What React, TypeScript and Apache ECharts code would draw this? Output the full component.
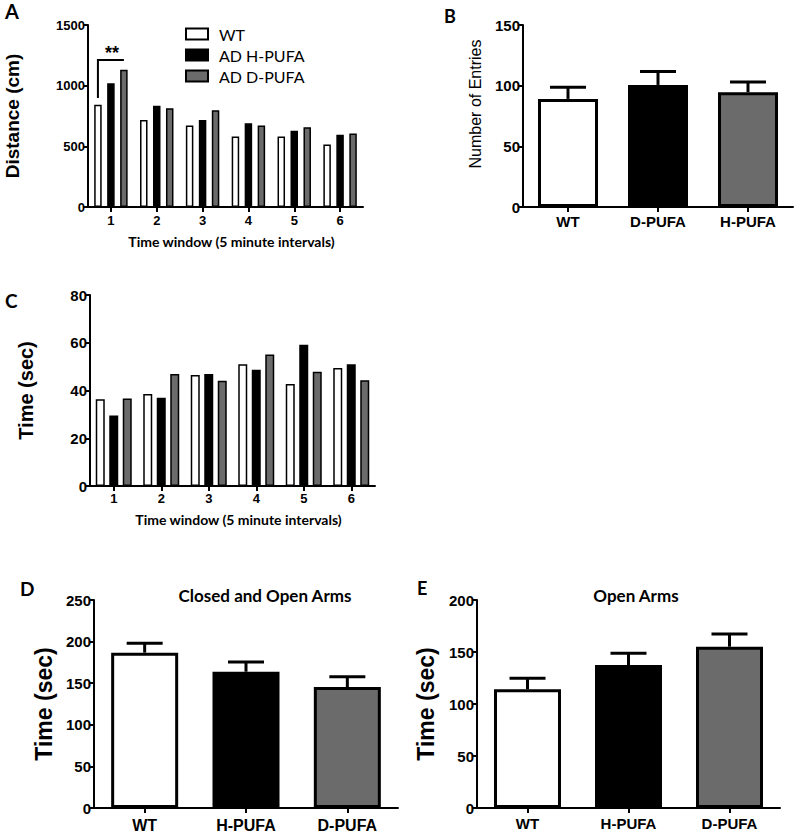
import React, { useEffect, useRef } from "react";
import * as echarts from "echarts";

// Panel A: distance per 5-minute window
const windowCats = ["1", "2", "3", "4", "5", "6"];
const distWT = [842, 718, 672, 581, 581, 515];
const distH = [1020, 834, 718, 691, 628, 595];
const distD = [1132, 814, 798, 672, 658, 606];
const distTicks = { max: 1500, interval: 500 };
// significance bracket on window 1 (WT vs AD D-PUFA)
const sigCat = 0;
const sigLow = 898;
const sigHigh = 1211;
const sigLabel = "**";

// Panel B: number of entries
const entriesCats = ["WT", "D-PUFA", "H-PUFA"];
const entries = [89.1, 100.6, 94.6];
const entriesErr = [9.6, 11.0, 8.5];

// Panel C: time per 5-minute window
const timeWT = [36.3, 38.5, 46.5, 51.0, 42.7, 49.4];
const timeH = [29.5, 37.0, 46.9, 48.7, 59.2, 51.0];
const timeD = [36.6, 46.9, 44.1, 55.1, 47.9, 44.3];

// Panels D and E
const armCats = ["WT", "H-PUFA", "D-PUFA"];
const closedOpen = [186.7, 163.8, 145.4];
const closedOpenErr = [11.3, 11.7, 12.4];
const openArms = [114.1, 137.5, 155.1];
const openArmsErr = [10.6, 11.2, 12.2];

const seriesNames = ["WT", "AD H-PUFA", "AD D-PUFA"];

const WHITE = "#ffffff";
const BLACK = "#000000";
const GRAY = "#6b6b6b";
const ARIAL = "Liberation Sans, Arial, sans-serif";
const CAL = "Lato, sans-serif";

const A_BW = 7.5;
const A_GAP = 0.733;
const C_BW = 9;
const C_GAP = 0.5;

function yAx(gridIndex: number, max: number, interval: number, name: string, nameSize: number, nameGap: number, fontSize: number, bold = true, pad: number[] = [0, 0, 0, 0]) {
  return {
    type: "value",
    gridIndex,
    min: 0,
    max,
    interval,
    name,
    nameLocation: "middle",
    nameGap,
    nameTextStyle: { fontFamily: ARIAL, fontSize: nameSize, fontWeight: bold ? "bold" : "normal", color: "#000", padding: pad },
    axisLine: { show: true, lineStyle: { color: "#000", width: 2 } },
    axisTick: { show: true, length: 5, lineStyle: { color: "#000", width: 2 } },
    splitLine: { show: false },
    axisLabel: { color: "#000", fontFamily: ARIAL, fontWeight: "bold", fontSize, margin: 3, formatter: (v: number) => String(v) },
  };
}

function xAx(gridIndex: number, data: string[], fontSize: number, margin: number, name?: string, nameGap?: number) {
  return {
    type: "category",
    gridIndex,
    data,
    name: name || "",
    nameLocation: "middle",
    nameGap: nameGap || 0,
    nameTextStyle: { fontFamily: CAL, fontSize: 14, fontWeight: "bold", color: "#000", padding: [0, 0, 0, 12] },
    axisLine: { show: true, lineStyle: { color: "#000", width: 2 } },
    axisTick: { show: true, alignWithLabel: true, length: 5, lineStyle: { color: "#000", width: 2 } },
    axisLabel: { color: "#000", fontFamily: ARIAL, fontWeight: "bold", fontSize, margin, interval: 0 },
    splitLine: { show: false },
  };
}

function errRender(capW: number) {
  return (params: any, api: any) => {
    const i = api.value(0);
    const top = api.coord([i, api.value(1)]);
    const up = api.coord([i, api.value(2)]);
    return {
      type: "group",
      children: [
        { type: "line", shape: { x1: top[0], y1: top[1], x2: up[0], y2: up[1] }, style: { stroke: "#000", lineWidth: 3 } },
        { type: "line", shape: { x1: up[0] - capW / 2, y1: up[1], x2: up[0] + capW / 2, y2: up[1] }, style: { stroke: "#000", lineWidth: 3 } },
      ],
    };
  };
}

function errSeries(xi: number, yi: number, cats: string[], mean: number[], err: number[]) {
  return {
    type: "custom",
    xAxisIndex: xi,
    yAxisIndex: yi,
    z: 5,
    renderItem: errRender(36),
    encode: { x: 0, y: [1, 2] },
    data: cats.map((c, i) => [i, mean[i], mean[i] + err[i]]),
  };
}

function singleBars(xi: number, yi: number, values: number[], colors: string[], bw: number) {
  return {
    type: "bar",
    xAxisIndex: xi,
    yAxisIndex: yi,
    barWidth: bw,
    data: values.map((v, i) => ({ value: v, itemStyle: { color: colors[i] } })),
    itemStyle: { borderColor: "#000", borderWidth: 3 },
  };
}

function groupBars(xi: number, yi: number, data: number[][], bw: number, gap: number) {
  const cols = [WHITE, BLACK, GRAY];
  return data.map((d, k) => ({
    type: "bar",
    name: seriesNames[k],
    xAxisIndex: xi,
    yAxisIndex: yi,
    barWidth: bw,
    barGap: Math.round(gap * 100) + "%",
    data: d,
    itemStyle: { color: cols[k], borderColor: "#000", borderWidth: 1.5 },
  }));
}

export default function App() {
  const ref = useRef<HTMLDivElement>(null);
  useEffect(() => {
    if (!ref.current) return;
    const chart = echarts.init(ref.current, null, { renderer: "svg" });
    const spacingA = A_BW * (1 + A_GAP);
    const option: any = {
      animation: false,
      backgroundColor: "#fff",
      grid: [
        { left: 88, top: 25, width: 275, height: 182, outerBoundsMode: "none" },
        { left: 523, top: 25, width: 270, height: 182, outerBoundsMode: "none" },
        { left: 90, top: 295, width: 285, height: 191, outerBoundsMode: "none" },
        { left: 94, top: 600, width: 304, height: 208, outerBoundsMode: "none" },
        { left: 477, top: 600, width: 303, height: 208, outerBoundsMode: "none" },
      ],
      xAxis: [
        xAx(0, windowCats, 13, 7, "Time window (5 minute intervals)", 27),
        xAx(1, entriesCats, 15, 7),
        xAx(2, windowCats, 13, 6, "Time window (5 minute intervals)", 26),
        xAx(3, armCats, 16, 9),
        xAx(4, armCats, 15, 8),
      ],
      yAxis: [
        yAx(0, distTicks.max, distTicks.interval, "Distance (cm)", 19, 66, 13),
        yAx(1, 150, 50, "Number of Entries", 16, 40, 15, false, [0, 0, 0, 24]),
        yAx(2, 80, 20, "Time (sec)", 20, 54, 15),
        yAx(3, 250, 50, "Time (sec)", 23, 39, 15),
        yAx(4, 200, 50, "Time (sec)", 23, 40, 15),
      ],
      legend: {
        orient: "vertical",
        left: 180,
        top: 21,
        itemWidth: 22,
        itemHeight: 11,
        itemGap: 5,
        icon: "rect",
        data: seriesNames,
        textStyle: { fontFamily: CAL, fontSize: 16, color: "#000", padding: [0, 0, 0, 6] },
        selectedMode: false,
      },
      series: [
        ...groupBars(0, 0, [distWT, distH, distD], A_BW, A_GAP),
        {
          type: "custom",
          xAxisIndex: 0,
          yAxisIndex: 0,
          z: 5,
          encode: { x: 0, y: [1, 2] },
          data: [[sigCat, sigLow, sigHigh]],
          renderItem: (params: any, api: any) => {
            const c = api.coord([api.value(0), api.value(2)]);
            const lo = api.coord([api.value(0), api.value(1)]);
            const x1 = c[0] - spacingA;
            const x2 = c[0] + spacingA;
            return {
              type: "group",
              children: [
                { type: "polyline", shape: { points: [[x1, lo[1]], [x1, c[1]], [x2, c[1]]] }, style: { stroke: "#000", lineWidth: 2, fill: "none" } },
                { type: "text", x: c[0] + 1, y: c[1] + 2, style: { text: sigLabel, fontSize: 18, fontWeight: "bold", fontFamily: ARIAL, fill: "#000", align: "center", verticalAlign: "bottom" } },
              ],
            };
          },
        },
        singleBars(1, 1, entries, [WHITE, BLACK, GRAY], 60),
        errSeries(1, 1, entriesCats, entries, entriesErr),
        ...groupBars(2, 2, [timeWT, timeH, timeD], C_BW, C_GAP),
        singleBars(3, 3, closedOpen, [WHITE, BLACK, GRAY], 67),
        errSeries(3, 3, armCats, closedOpen, closedOpenErr),
        singleBars(4, 4, openArms, [WHITE, BLACK, GRAY], 67),
        errSeries(4, 4, armCats, openArms, openArmsErr),
      ],
      graphic: [
        { type: "text", left: 5, top: 1, style: { text: "A", fontFamily: CAL, fontWeight: "bold", fontSize: 20, fill: "#000" } },
        { type: "text", left: 444, top: 7, style: { text: "B", fontFamily: CAL, fontWeight: "bold", fontSize: 18, fill: "#000" } },
        { type: "text", left: 5, top: 291, style: { text: "C", fontFamily: CAL, fontWeight: "bold", fontSize: 19, fill: "#000" } },
        { type: "text", left: 20, top: 579, style: { text: "D", fontFamily: CAL, fontWeight: "bold", fontSize: 19, fill: "#000" } },
        { type: "text", left: 417, top: 579, style: { text: "E", fontFamily: CAL, fontWeight: "bold", fontSize: 18, fill: "#000" } },
        { type: "text", x: 265, y: 595, style: { text: "Closed and Open Arms", fontFamily: CAL, fontWeight: "bold", fontSize: 17, fill: "#000", align: "center", verticalAlign: "middle" } },
        { type: "text", x: 636, y: 595, style: { text: "Open Arms", fontFamily: CAL, fontWeight: "bold", fontSize: 17, fill: "#000", align: "center", verticalAlign: "middle" } },
      ],
    };
    chart.setOption(option);
    return () => chart.dispose();
  }, []);
  return <div ref={ref} style={{ position: "absolute", left: 0, top: 0, width: 800, height: 832 }} />;
}
